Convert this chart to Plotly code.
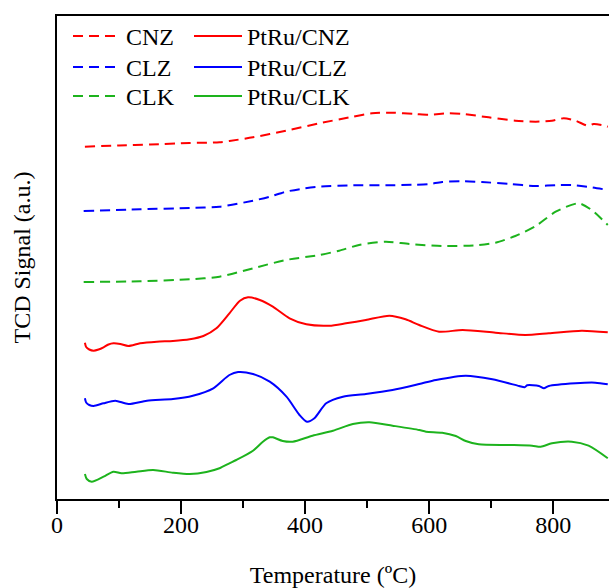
import plotly.graph_objects as go

# ---- data (temperature in ºC, signal in arbitrary units) ----
cnz_t = [45, 100, 150, 214, 262, 278, 316, 369, 423, 477, 508, 540, 578, 600, 632, 654, 696, 739, 772, 798, 817, 836, 857, 865, 878, 888]
cnz_y = [351.8, 353, 354, 355.5, 356.2, 357.5, 361.2, 367.8, 375.2, 381.8, 385.2, 385.8, 384.5, 383.8, 385.2, 384.5, 381.2, 377.8, 376.8, 377.8, 380.2, 377.8, 372.5, 374.5, 373.5, 371.8]

clz_t = [43, 134, 214, 262, 316, 343, 369, 396, 423, 477, 530, 578, 600, 621, 653, 685, 729, 772, 810, 836, 862, 888]
clz_y = [287.5, 289.2, 290.5, 291.8, 297.8, 301.8, 306.8, 309.8, 311.8, 313.2, 313.2, 313.8, 314.5, 316.5, 317.2, 316.5, 314.5, 312.5, 313.5, 313.2, 311.2, 308.5]

clk_t = [43, 134, 214, 262, 316, 369, 423, 455, 487, 530, 568, 621, 675, 707, 739, 772, 804, 841, 862, 888]
clk_y = [216.5, 217.2, 219.2, 221.8, 230.2, 238.5, 243.5, 247.8, 253.5, 256.8, 254.5, 252.5, 253.2, 255.8, 262.5, 272.5, 286.8, 295.2, 288.5, 273.5]

ptcnz_t = [45, 47, 52, 59, 67, 75, 83, 91, 102, 115, 134, 161, 187, 214, 236, 257, 278, 295, 308, 327, 348, 375, 402, 439, 466, 498, 536, 562, 584, 616, 654, 707, 755, 793, 846, 888]
ptcnz_y = [155.8, 151.5, 149, 147.8, 149, 151.2, 154, 155.2, 154.5, 152.5, 155.2, 156.8, 157.5, 159.2, 162.5, 170.2, 185.2, 197.8, 201.2, 198.5, 191.8, 180.2, 174.2, 172.8, 175.2, 178.5, 182.8, 179.2, 173.5, 166.8, 168.5, 165.8, 163.5, 165.2, 167.8, 166.2]

ptclz_t = [45, 47, 52, 59, 75, 94, 115, 145, 187, 219, 252, 278, 292, 316, 343, 370, 391, 403, 415, 434, 461, 498, 541, 584, 611, 659, 702, 745, 754, 758, 777, 785, 793, 836, 868, 888]
ptclz_y = [100.2, 96, 93.5, 92.5, 95.2, 97.8, 94.5, 97.8, 99.5, 102.8, 110.2, 123.5, 126.5, 124.5, 116.8, 101.8, 83.5, 76.8, 80.2, 95.2, 101.8, 104.5, 108.5, 114.5, 118.5, 122.8, 119.2, 112.5, 111.2, 113.2, 112.5, 110.2, 112.5, 115.2, 115.8, 114.2]

ptclk_t = [45, 48, 56, 75, 91, 104, 128, 155, 187, 214, 241, 262, 278, 289, 316, 332, 343, 348, 364, 380, 412, 445, 477, 504, 541, 584, 595, 621, 643, 659, 680, 729, 766, 780, 798, 830, 857, 888]
ptclk_y = [24.5, 19.5, 16.8, 21.8, 26.8, 25.2, 26.8, 28.5, 25.8, 24.5, 26.5, 30.2, 35.2, 38.5, 47.8, 56.8, 61.2, 61.2, 57.5, 56.8, 62.8, 67.8, 74.5, 76.2, 72.8, 68.5, 66.8, 65.8, 62.5, 57.5, 54.2, 53.5, 52.8, 51.8, 55.2, 56.8, 52.8, 40.2]

x_ticks = [0, 200, 400, 600, 800]

RED = "#FF0000"
BLUE = "#0000FF"
GREEN = "#1DB31D"
FONT = "Liberation Serif"
FS = 24
DASH = "10px,6px"

W, H = 609, 588
ML, MR, MT, MB = 57, 0, 16, 89
PW, PH = W - ML - MR, H - MT - MB

fig = go.Figure()

series = [
    ("CNZ", cnz_t, cnz_y, RED, DASH),
    ("CLZ", clz_t, clz_y, BLUE, DASH),
    ("CLK", clk_t, clk_y, GREEN, DASH),
    ("PtRu/CNZ", ptcnz_t, ptcnz_y, RED, "solid"),
    ("PtRu/CLZ", ptclz_t, ptclz_y, BLUE, "solid"),
    ("PtRu/CLK", ptclk_t, ptclk_y, GREEN, "solid"),
]

# legend layout: two columns, three rows (pixel positions of item origin / row centre)
col_x = [68, 189]
row_c = [37, 68, 97]

legends = {}
for i, (name, t, y, c, d) in enumerate(series):
    key = "legend" if i == 0 else f"legend{i + 1}"
    fig.add_trace(go.Scatter(x=t, y=y, name=name, mode="lines",
                             line=dict(color=c, width=2, dash=d, shape="spline", smoothing=0.7),
                             legend=key))
    col, row = i // 3, i % 3
    px_x = col_x[col]
    px_top = row_c[row] - 23
    legends[key] = dict(
        x=(px_x - ML) / PW, y=1 - (px_top - MT) / PH,
        xref="paper", yref="paper", xanchor="left", yanchor="top",
        font=dict(family=FONT, size=FS, color="black"),
        bgcolor="rgba(0,0,0,0)", borderwidth=0, itemwidth=48,
    )

fig.update_layout(
    width=W, height=H,
    margin=dict(l=ML, r=MR, t=MT, b=MB),
    paper_bgcolor="white", plot_bgcolor="white",
    font=dict(family=FONT, size=FS, color="black"),
    showlegend=True,
    **legends,
    xaxis=dict(range=[0, 890], tickvals=x_ticks, ticks="outside", ticklen=13, tickwidth=2,
               tickcolor="black", showline=True, linewidth=2, linecolor="black", mirror=True,
               showgrid=False, zeroline=False, automargin=False, ticklabelstandoff=-10,
               minor=dict(dtick=100, tick0=0, ticks="outside", ticklen=7, tickwidth=2, tickcolor="black"),
               tickfont=dict(family=FONT, size=FS, color="black"),
               title=dict(text="Temperature (ºC)", font=dict(family=FONT, size=FS, color="black"), standoff=29)),
    yaxis=dict(range=[-0.5, 482.5], showticklabels=False, ticks="", showline=True, linewidth=2,
               linecolor="black", mirror=False, showgrid=False, zeroline=False, automargin=False,
               title=dict(text="TCD Signal (a.u.)", font=dict(family=FONT, size=FS, color="black"), standoff=18)),
)

fig.write_html("out.html")
